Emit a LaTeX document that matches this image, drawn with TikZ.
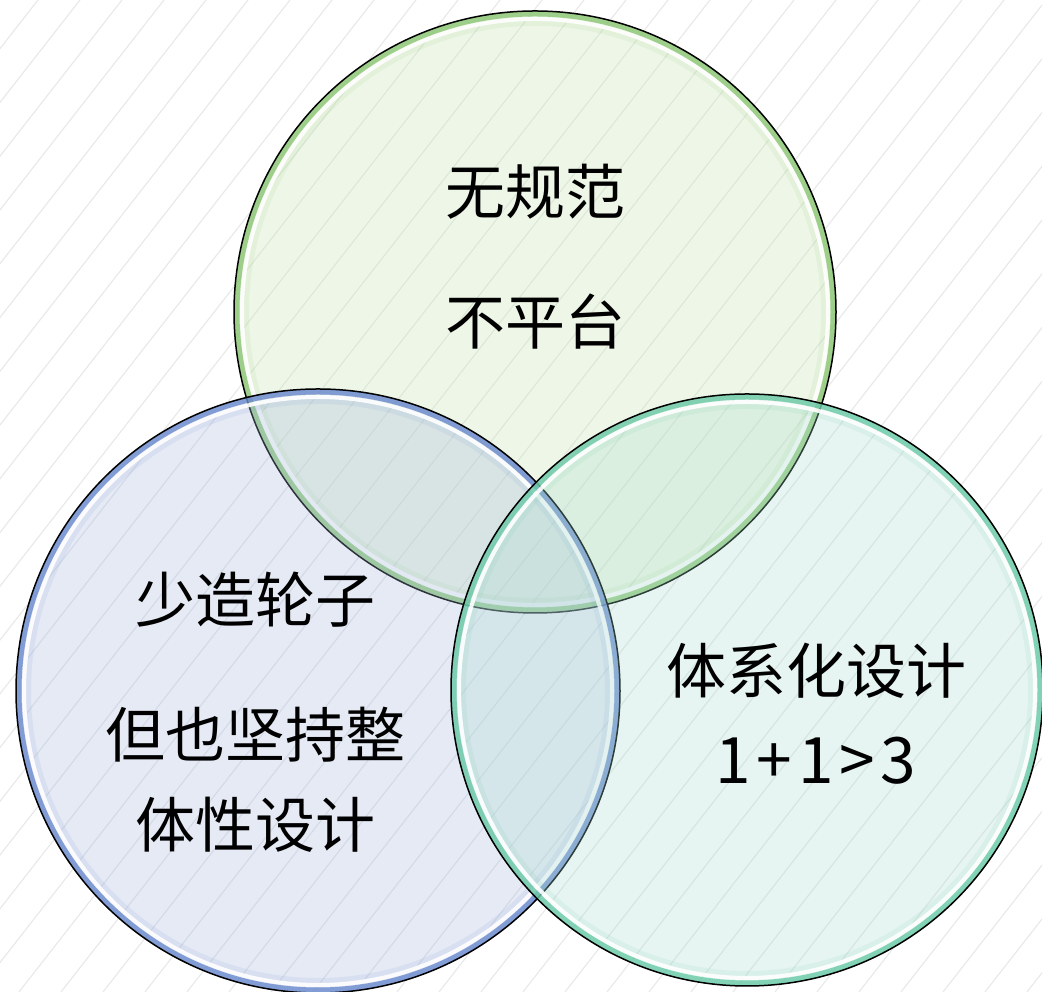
\documentclass[tikz,border=0pt]{standalone}
\usepackage{fontspec}
\setmainfont{Noto Sans CJK SC}
\usetikzlibrary{positioning}

\definecolor{leafgreen}{HTML}{C2E4AC}
\definecolor{seablue}{HTML}{A2B6DE}
\definecolor{mint}{HTML}{A8DCD0}
\definecolor{leafrim}{HTML}{86C470}
\definecolor{bluerim}{HTML}{6686CC}
\definecolor{mintrim}{HTML}{66C8A4}
\definecolor{stripegray}{HTML}{E8E8E8}

\begin{document}
\begin{tikzpicture}[x=1pt,y=1pt,on grid,
	bubble/.style n args={3}{circle,draw=black,line width=1.5pt,minimum size=2*#3 pt,inner sep=0pt,
		fill=#1,fill opacity=0.28,
		path picture={
			\draw[#2,line width=30pt,draw opacity=0.10] (path picture bounding box.center) circle (#3pt);
			\draw[#2,line width=11pt,draw opacity=0.75] (path picture bounding box.center) circle (#3pt);
			\draw[white,line width=4pt,draw opacity=0.9] (path picture bounding box.center) circle (#3pt-8pt);}},
	word/.style={font=\fontsize{60}{90}\selectfont,align=center}]
	\clip (0,0) rectangle (1042,992);
	\fill[white] (0,0) rectangle (1042,992);
	\foreach \s in {-779,-737,...,1042}
		\draw[stripegray,line width=1.1pt] (\s,0) -- ++(775,992);
	\node[bubble={leafgreen}{leafrim}{301}] (norm) at (535,680) {};
	\node[bubble={seablue}{bluerim}{302}] (reuse) [below left=379pt and 217pt of norm] {};
	\node[bubble={mint}{mintrim}{296}] (system) [below right=378pt and 212pt of norm] {};
	\node[word] (normtext) [above=120pt of norm] {无规范};
	\node[word] (platform) [below=10pt of norm] {不平台};
	\node[word] (wheel) [above left=91pt and 63pt of reuse] {少造轮子};
	\node[word] (whole) [below left=89pt and 63pt of reuse] {但也坚持整\\体性设计};
	\node[word] (sysdesign) [below right=24pt and 69pt of system]
		{体系化设计\\{\fontsize{64}{90}\selectfont\addfontfeatures{LetterSpace=9}1+1>3}};
\end{tikzpicture}
\end{document}
